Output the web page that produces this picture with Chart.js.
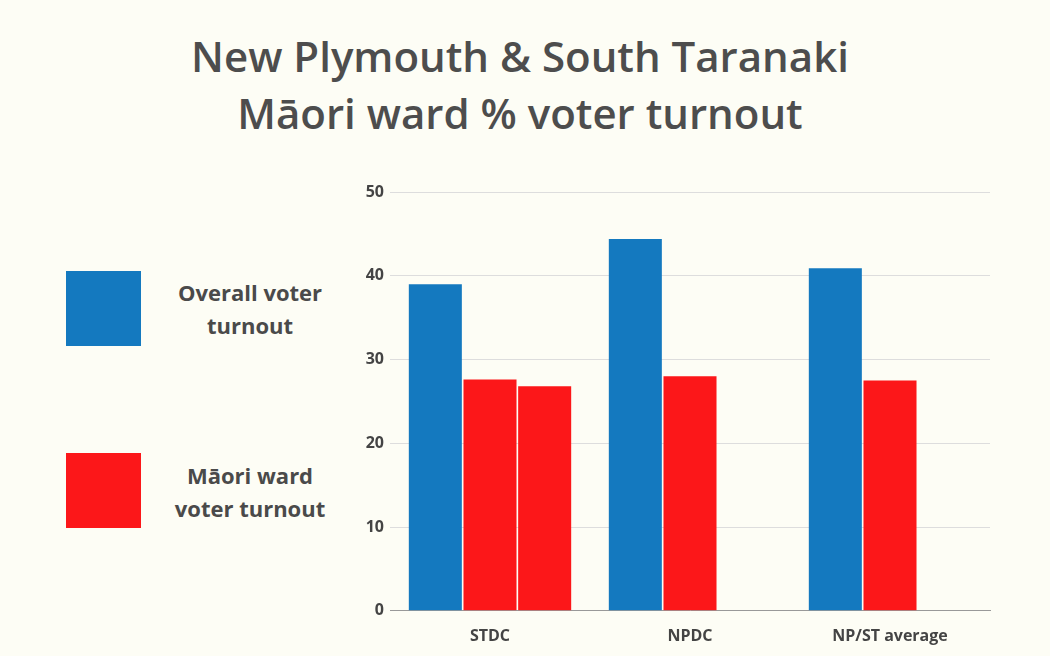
<!DOCTYPE html>
<html><head><meta charset="utf-8">
<script src="https://cdn.jsdelivr.net/npm/chart.js@4"></script>
<style>
body{margin:0;background:#fdfdf5;width:1050px;height:656px;overflow:hidden;position:relative;font-family:"Open Sans",sans-serif}
#t{position:absolute;left:0;width:1040px;top:27px;text-align:center;font-size:42px;font-weight:600;color:#4d4d4d;line-height:57px}
.box{position:absolute;left:66px;width:75px;height:75px}
.lt{position:absolute;left:150px;width:200px;text-align:center;font-size:22px;font-weight:700;color:#4a4a4a;line-height:33px}
canvas{position:absolute;left:0;top:0}
</style></head><body>
<div id="t">New Plymouth &amp; South Taranaki<br>Māori ward % voter turnout</div>
<div class="box" style="top:271px;background:#1479bf"></div>
<div class="lt" style="top:276px">Overall voter<br>turnout</div>
<div class="box" style="top:453px;background:#fc1719"></div>
<div class="lt" style="top:459px">Māori ward<br>voter turnout</div>
<div style="position:absolute;left:0;top:0;width:1050px;height:656px"><canvas id="c"></canvas></div>
<script>
const categories=["STDC","NPDC","NP/ST average"];
const overall=[39,44.4,40.9];
const maori=[27.6,28,27.5];
const maori2=[26.8,null,null];
const yTicks=[0,10,20,30,40,50];
new Chart(document.getElementById('c'),{type:'bar',
data:{labels:categories,datasets:[
{data:overall,backgroundColor:'#1479bf'},
{data:maori,backgroundColor:'#fc1719'},
{data:maori2,backgroundColor:'#fc1719'}]},
options:{responsive:true,maintainAspectRatio:false,animation:false,
layout:{padding:{top:192,right:60,bottom:2,left:0}},
plugins:{legend:{display:false},tooltip:{enabled:false}},
datasets:{bar:{categoryPercentage:0.82,barPercentage:0.97}},
scales:{
x:{grid:{display:false},border:{color:'#999'},ticks:{color:'#444',font:{family:'Open Sans',weight:'bold',size:16},padding:8}},
y:{min:0,max:50,afterFit:s=>{s.width=390},afterBuildTicks:s=>{s.ticks=yTicks.map(v=>({value:v}))},
grid:{color:'#ddd',drawTicks:false},border:{display:false},
ticks:{color:'#444',padding:6,font:{family:'Open Sans',weight:'bold',size:16}}}}}});
</script></body></html>
